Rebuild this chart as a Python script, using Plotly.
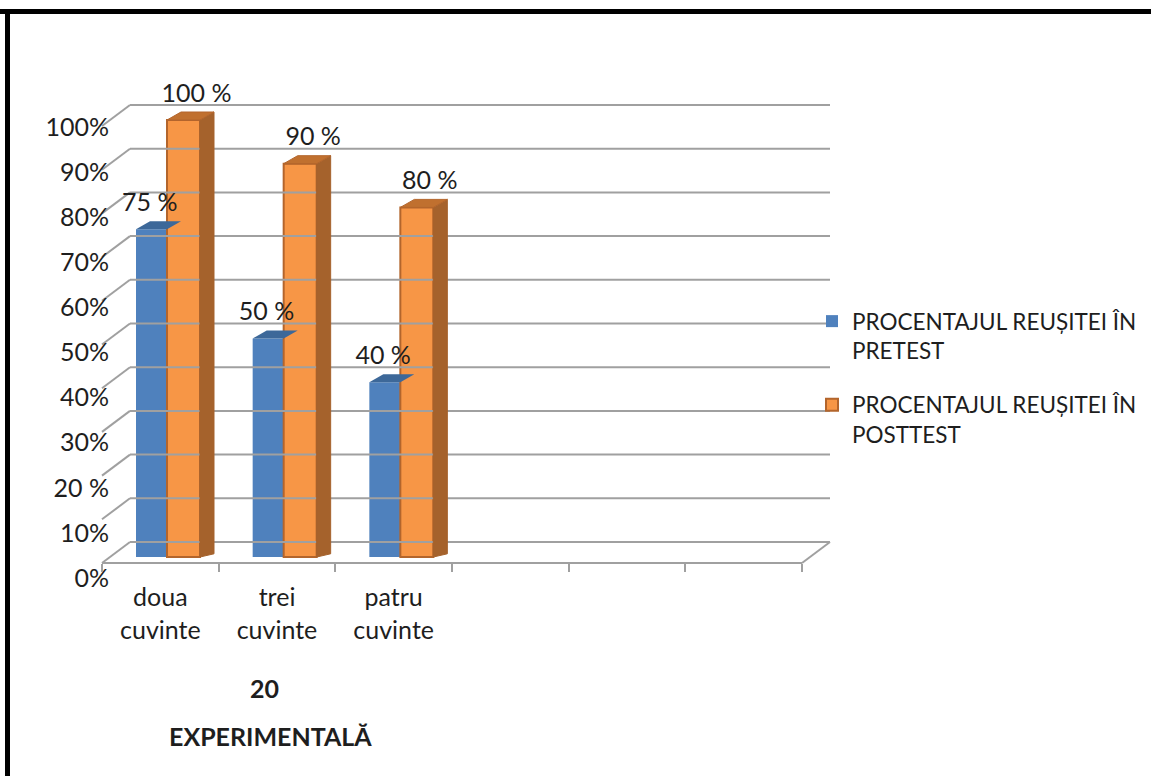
import plotly.graph_objects as go

# ---------------- data ----------------
categories = ["doua<br>cuvinte", "trei<br>cuvinte", "patru<br>cuvinte", " ", "  ", "   "]
pretest = [75, 50, 40]
posttest = [100, 90, 80]
pretest_labels = ["75 %", "50 %", "40 %"]
posttest_labels = ["100 %", "90 %", "80 %"]
series_names = ["PROCENTAJUL REUȘITEI ÎN<br>PRETEST", "PROCENTAJUL REUȘITEI ÎN<br>POSTTEST"]
y_ticks = [0, 10, 20, 30, 40, 50, 60, 70, 80, 90, 100]
y_ticktext = ["0%", "10%", "20 %", "30%", "40%", "50%", "60%", "70%", "80%", "90%", "100%"]

# ---------------- geometry (pixels -> axis units) ----------------
W, H = 1151, 776
FRONT_LEFT_PX, FRONT_RIGHT_PX = 102, 802
FRONT_ZERO_PX = 563
PX_PER_CAT = (FRONT_RIGHT_PX - FRONT_LEFT_PX) / len(categories)
PX_PER_PCT = 4.37

def dx(px):
    return px / PX_PER_CAT

def dy(px):
    return px / PX_PER_PCT

x_range = [-0.5 - dx(FRONT_LEFT_PX), -0.5 + dx(W - FRONT_LEFT_PX)]
y_range = [-dy(H - FRONT_ZERO_PX), dy(FRONT_ZERO_PX)]

back_dx, back_dy = dx(28), dy(21)      # back wall offset
bar_base = dy(6)                        # bar plane floor
top_dx, top_dy = dx(14), dy(8)          # bar depth

blue_off, blue_w = dx(136 - 160.33), dx(31)
orng_off, orng_w = dx(167 - 160.33), dx(33)

GRID = "#a0a0a0"
BLUE = "#4F81BD"
BLUE_TOP = "#3d6899"
ORANGE = "#F79646"
ORANGE_LINE = "#b3652c"
ORANGE_SIDE = "#a5622c"
ORANGE_TOP = "#c0702f"
FONT = "Lato"
TXT = "#1e1e1e"
FS = 25

fig = go.Figure()

# back wall grid + left side-wall diagonals
gx, gy = [], []
n = len(categories)
for v in y_ticks:
    gx += [-0.5 + back_dx, n - 0.5 + back_dx, None, -0.5, -0.5 + back_dx, None]
    gy += [v + back_dy, v + back_dy, None, v, v + back_dy, None]
# right floor diagonal
gx += [n - 0.5, n - 0.5 + back_dx, None]
gy += [0, back_dy, None]
fig.add_trace(go.Scatter(x=gx, y=gy, mode="lines", line=dict(color=GRID, width=2),
                         hoverinfo="skip", showlegend=False))

# front floor category axis (labels + ticks at boundaries)
fig.add_trace(go.Scatter(x=categories, y=[None] * n, xaxis="x2", yaxis="y",
                         mode="markers", showlegend=False, hoverinfo="skip"))

# y tick label axis
fig.add_trace(go.Scatter(x=[0, 0], y=[0, 100], xaxis="x", yaxis="y2", mode="markers",
                         marker=dict(opacity=0), showlegend=False, hoverinfo="skip"))

xs = list(range(len(pretest)))

# blue bars (front faces)
fig.add_trace(go.Bar(x=xs, y=pretest, base=bar_base, offset=blue_off, width=blue_w,
                     marker=dict(color=BLUE, line=dict(width=0)), name=series_names[0],
                     legendgroup="a"))
for i, v in enumerate(pretest):
    xl, xr, yt = i + blue_off, i + blue_off + blue_w, bar_base + v
    fig.add_trace(go.Scatter(x=[xl, xr, xr + top_dx, xl + top_dx, xl],
                             y=[yt, yt, yt + top_dy, yt + top_dy, yt],
                             fill="toself", fillcolor=BLUE_TOP, mode="lines",
                             line=dict(width=0, color=BLUE_TOP), showlegend=False, hoverinfo="skip"))

# orange bars
fig.add_trace(go.Bar(x=xs, y=posttest, base=bar_base, offset=orng_off, width=orng_w,
                     marker=dict(color=ORANGE, line=dict(width=2, color=ORANGE_LINE)),
                     name=series_names[1], legendgroup="b"))
for i, v in enumerate(posttest):
    xl, xr, yt = i + orng_off, i + orng_off + orng_w, bar_base + v
    fig.add_trace(go.Scatter(x=[xr, xr + top_dx, xr + top_dx, xr, xr],
                             y=[bar_base, bar_base + top_dy * 0.4, yt + top_dy, yt, bar_base],
                             fill="toself", fillcolor=ORANGE_SIDE, mode="lines",
                             line=dict(width=1, color=ORANGE_SIDE), showlegend=False, hoverinfo="skip"))
    fig.add_trace(go.Scatter(x=[xl, xr, xr + top_dx, xl + top_dx, xl],
                             y=[yt, yt, yt + top_dy, yt + top_dy, yt],
                             fill="toself", fillcolor=ORANGE_TOP, mode="lines",
                             line=dict(width=1, color=ORANGE_LINE), showlegend=False, hoverinfo="skip"))

# data labels
LBL_UP = 7
fig.add_trace(go.Scatter(x=[i - 0.09 for i in xs], y=[v + LBL_UP for v in pretest],
                         text=pretest_labels, mode="text", textposition="middle center",
                         textfont=dict(family=FONT, size=FS, color=TXT),
                         showlegend=False, hoverinfo="skip"))
fig.add_trace(go.Scatter(x=[i + 0.31 for i in xs], y=[v + LBL_UP for v in posttest],
                         text=posttest_labels, mode="text", textposition="middle center",
                         textfont=dict(family=FONT, size=FS, color=TXT),
                         showlegend=False, hoverinfo="skip"))

fig.update_layout(
    width=W, height=H,
    margin=dict(l=0, r=0, t=0, b=0, pad=0, autoexpand=False),
    paper_bgcolor="white", plot_bgcolor="rgba(0,0,0,0)",
    font=dict(family=FONT, color=TXT),
    barmode="overlay",
    xaxis=dict(domain=[0, 1], range=x_range, visible=False, fixedrange=True),
    yaxis=dict(domain=[0, 1], range=y_range, visible=False, fixedrange=True),
    xaxis2=dict(type="category", domain=[FRONT_LEFT_PX / W, FRONT_RIGHT_PX / W],
                range=[-0.5, n - 0.5], anchor="free", position=1 - FRONT_ZERO_PX / H,
                showline=True, linecolor=GRID, linewidth=2, ticks="outside", ticklen=8,
                tickwidth=2, tickcolor=GRID, tickson="boundaries", showgrid=False,
                zeroline=False, automargin=False, ticklabelstandoff=12,
                tickfont=dict(family=FONT, size=FS, color=TXT), fixedrange=True),
    yaxis2=dict(domain=[1 - 578 / H, 1 - 127 / H], range=[0, 100], anchor="free",
                position=109 / W, side="left", showgrid=False, zeroline=False,
                showline=False, tickmode="array", tickvals=y_ticks, ticktext=y_ticktext,
                automargin=False,
                tickfont=dict(family=FONT, size=FS, color=TXT), fixedrange=True),
    legend=dict(x=812 / W, y=1 - 300 / H, xanchor="left", yanchor="top",
                font=dict(family=FONT, size=22.5, color=TXT), bgcolor="rgba(0,0,0,0)",
                itemwidth=30, tracegroupgap=22, valign="top"),
    annotations=[
        dict(text="<b>20</b>", x=264 / W, y=1 - 688 / H, xref="paper", yref="paper",
             xanchor="center", yanchor="middle",
             showarrow=False, font=dict(family=FONT, size=25, color=TXT)),
        dict(text="<b>EXPERIMENTALĂ</b>", x=270 / W, y=1 - 736 / H, xref="paper", yref="paper",
             xanchor="center", yanchor="middle",
             showarrow=False, font=dict(family=FONT, size=25, color=TXT)),
    ],
    shapes=[
        dict(type="line", xref="paper", yref="paper", x0=0, x1=1, y0=1 - 11.5 / H, y1=1 - 11.5 / H,
             line=dict(color="black", width=5)),
        dict(type="line", xref="paper", yref="paper", x0=7.5 / W, x1=7.5 / W, y0=0, y1=1 - 9 / H,
             line=dict(color="black", width=5)),
    ],
)

fig.write_html("out.html", config={"displayModeBar": False},
               post_script="document.body.style.margin='0';document.body.style.overflow='hidden';")
